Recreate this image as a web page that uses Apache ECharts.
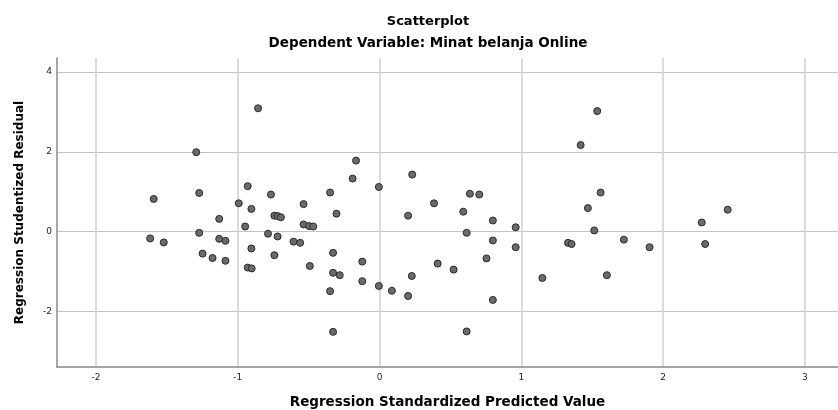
<!DOCTYPE html>
<html>
<head>
<meta charset="utf-8">
<script src="https://cdn.jsdelivr.net/npm/echarts@6/dist/echarts.min.js"></script>
<style>html,body{margin:0;padding:0;background:#fff}#c{width:838px;height:410px}</style>
</head>
<body>
<div id="c"></div>
<script>
// Regression Standardized Predicted Value
var predicted = [
  -0.857,-1.293,-1.593,-1.272,-0.930,-0.766,-0.993,-0.904,-0.536,-1.131,
  -0.742,-0.719,-0.696,-0.948,-0.536,-0.497,-0.468,-1.618,-1.522,-1.272,
  -1.131,-1.087,-0.787,-0.719,-0.607,-0.560,-0.904,-1.248,-1.178,-1.087,
  -0.742,-0.930,-0.902,-0.492,
  -0.166,-0.190,0.230,-0.005,-0.349,-0.304,0.384,0.637,0.703,0.590,
  0.201,0.799,0.960,0.614,0.799,0.960,-0.328,-0.122,0.410,0.522,
  0.754,-0.328,-0.281,0.227,-0.122,-0.005,0.087,-0.349,0.201,0.799,
  1.148,-0.328,0.614,
  1.535,1.418,1.559,1.469,1.514,1.329,1.354,1.723,1.904,1.603,
  2.272,2.455,2.296
];
// Regression Studentized Residual
var residual = [
  3.09,1.99,0.82,0.97,1.14,0.93,0.71,0.57,0.69,0.32,
  0.40,0.39,0.36,0.13,0.18,0.14,0.13,-0.17,-0.27,-0.03,
  -0.18,-0.23,-0.05,-0.12,-0.25,-0.28,-0.42,-0.55,-0.66,-0.73,
  -0.59,-0.90,-0.92,-0.86,
  1.78,1.33,1.43,1.12,0.98,0.45,0.71,0.95,0.93,0.50,
  0.40,0.28,0.11,-0.03,-0.22,-0.39,-0.53,-0.75,-0.80,-0.95,
  -0.67,-1.03,-1.09,-1.11,-1.24,-1.36,-1.48,-1.49,-1.61,-1.71,
  -1.16,-2.51,-2.50,
  3.02,2.17,0.98,0.59,0.03,-0.28,-0.31,-0.20,-0.39,-1.09,
  0.23,0.55,-0.31
];
var titleText = 'Scatterplot';
var subtitleText = 'Dependent Variable: Minat belanja Online';
var xName = 'Regression Standardized Predicted Value';
var yName = 'Regression Studentized Residual';

var points = predicted.map(function (v, i) { return [v, residual[i]]; });
var font = '"DejaVu Sans", sans-serif';
var tickFont = '"DejaVu Sans", sans-serif';

var chart = echarts.init(document.getElementById('c'), null, {renderer: 'canvas'});
chart.setOption({
  animation: false,
  backgroundColor: '#ffffff',
  title: [
    {text: titleText, left: 423, top: 10, textAlign: 'center',
     textStyle: {fontFamily: font, fontSize: 13, fontWeight: 'bold', color: '#000'}},
    {text: subtitleText, left: 423, top: 31, textAlign: 'center',
     textStyle: {fontFamily: font, fontSize: 13.5, fontWeight: 'bold', color: '#000'}}
  ],
  grid: {left: 57, top: 58, right: 0, bottom: 43, containLabel: false, outerBoundsMode: 'none'},
  xAxis: {
    type: 'value', min: -2.275, max: 3.233, splitNumber: 6,
    name: xName, nameLocation: 'middle', nameGap: 28,
    nameTextStyle: {fontFamily: font, fontSize: 13.5, fontWeight: 'bold', color: '#000'},
    axisLine: {show: true, onZero: false, lineStyle: {color: '#888', width: 1.5}},
    axisTick: {show: false},
    axisLabel: {fontFamily: tickFont, fontSize: 9, color: '#222', margin: 6, showMinLabel: false, showMaxLabel: false},
    splitLine: {show: true, showMinLine: false, showMaxLine: false, lineStyle: {color: '#d0d0d0', width: 1.5}}
  },
  yAxis: {
    type: 'value', min: -3.39, max: 4.35, splitNumber: 4,
    name: yName, nameLocation: 'middle', nameGap: 31,
    nameTextStyle: {fontFamily: font, fontSize: 12, fontWeight: 'bold', color: '#000'},
    axisLine: {show: true, onZero: false, lineStyle: {color: '#888', width: 1.5}},
    axisTick: {show: false},
    axisLabel: {fontFamily: tickFont, fontSize: 9, color: '#222', margin: 5, showMinLabel: false, showMaxLabel: false},
    splitLine: {show: true, showMinLine: false, showMaxLine: false, lineStyle: {color: '#c4c4c4', width: 1}}
  },
  series: [{
    type: 'scatter',
    data: points,
    symbol: 'circle',
    symbolSize: 7,
    itemStyle: {color: '#6a6a6a', borderColor: '#2a2a2a', borderWidth: 1, opacity: 1}
  }]
});
</script>
</body>
</html>
